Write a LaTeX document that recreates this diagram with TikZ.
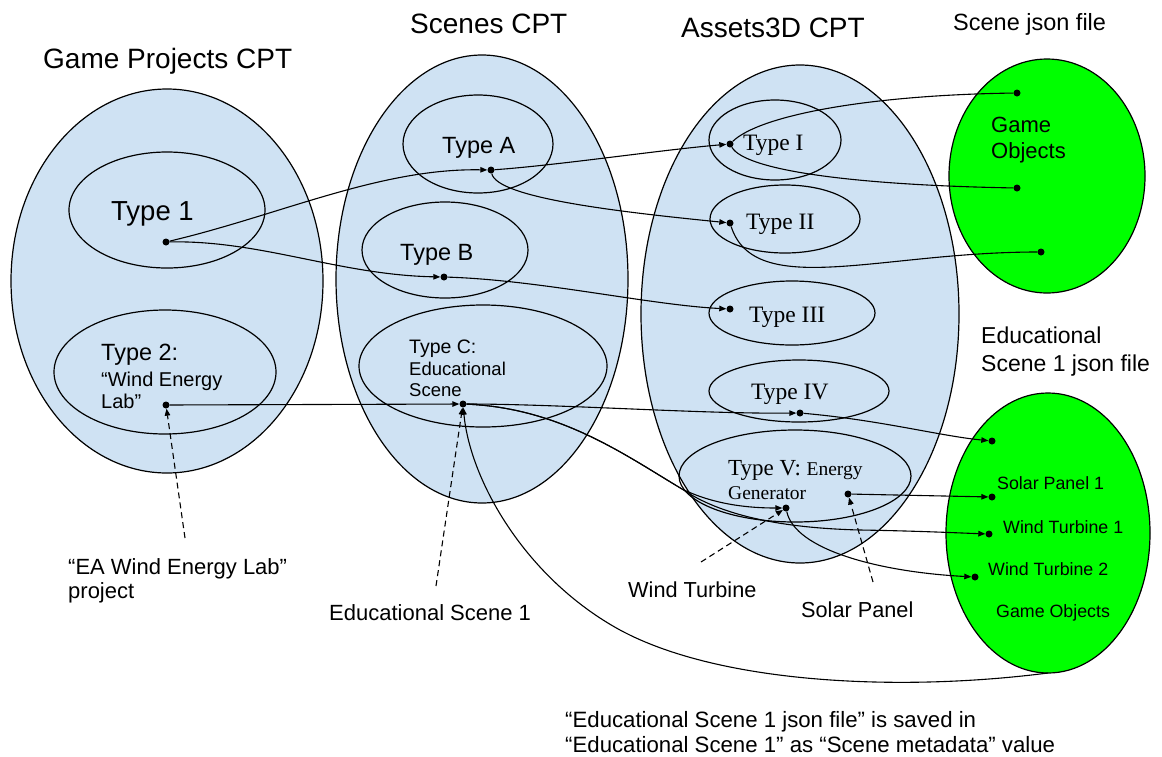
\documentclass[tikz,border=0pt]{standalone}
\usepackage{fontspec}
\setmainfont{Liberation Sans}
\newfontfamily\timesf{Liberation Serif}
\usetikzlibrary{shapes.geometric, arrows.meta}

\definecolor{cptblue}{HTML}{CFE2F3}
\definecolor{jsongreen}{HTML}{00FF00}

\newcommand\fsz[1]{\fontsize{#1}{#1}\selectfont}

\begin{document}
\begin{tikzpicture}[x=1pt, y=-1pt,
  area/.style={ellipse, draw=black, line width=1.2pt, inner sep=0pt, outer sep=0pt},
  cptarea/.style={area, fill=cptblue},
  typearea/.style={area},
  jsonarea/.style={area, fill=jsongreen},
  refdot/.style={circle, fill=black, inner sep=0pt, minimum size=7pt},
  txt/.style={inner sep=0pt, anchor=base west, text=black},
  link/.style={line width=1.1pt},
  arrlink/.style={link, -{Triangle[length=7pt,width=5.5pt]}},
  hintlink/.style={arrlink, dash pattern=on 6pt off 4pt},
]
\useasboundingbox (0,0) rectangle (1162,756);

% content types (outer regions)
\node[cptarea, minimum width=312pt, minimum height=384pt] (gp)  at (167,281) {};
\node[cptarea, minimum width=292pt, minimum height=448pt] (sc)  at (482,279) {};
\node[cptarea, minimum width=318pt, minimum height=498pt] (as)  at (800,314) {};

% json files
\node[jsonarea, minimum width=196pt, minimum height=234pt] (sj)  at (1047,176) {};
\node[jsonarea, minimum width=204pt, minimum height=280pt] (edu) at (1048,533) {};

% sub types
\node[typearea, minimum width=196pt, minimum height=116pt] (t1)   at (167,210) {};
\node[typearea, minimum width=222pt, minimum height=124pt] (t2)   at (165,372) {};
\node[typearea, minimum width=150pt, minimum height=98pt]  (ta)   at (478,144) {};
\node[typearea, minimum width=166pt, minimum height=96pt]  (tb)   at (445,250) {};
\node[typearea, minimum width=248pt, minimum height=122pt] (tc)   at (483,366) {};
\node[typearea, minimum width=132pt, minimum height=80pt]  (ti)   at (775,140) {};
\node[typearea, minimum width=150pt, minimum height=68pt]  (tii)  at (785,219) {};
\node[typearea, minimum width=166pt, minimum height=64pt]  (tiii) at (792,313) {};
\node[typearea, minimum width=180pt, minimum height=62pt]  (tiv)  at (799,391) {};
\node[typearea, minimum width=232pt, minimum height=92pt]  (tv)   at (795,476) {};

% reference points
\node[refdot] (d1)   at (166,242) {};
\node[refdot] (d2)   at (166,405) {};
\node[refdot] (dA)   at (491,170) {};
\node[refdot] (dB)   at (444,277) {};
\node[refdot] (dC)   at (463,404) {};
\node[refdot] (dI)   at (730,144) {};
\node[refdot] (dII)  at (730,223) {};
\node[refdot] (dIII) at (730,309) {};
\node[refdot] (dIV)  at (800,413) {};
\node[refdot] (dW)   at (786,508) {};
\node[refdot] (dS)   at (848,494) {};
\node[refdot] (g1)   at (1017,93) {};
\node[refdot] (g2)   at (1017,188) {};
\node[refdot] (g3)   at (1041,252) {};
\node[refdot] (e1)   at (992,441) {};
\node[refdot] (e2)   at (992,497) {};
\node[refdot] (e3)   at (989,534) {};
\node[refdot] (e4)   at (975,577) {};

% connectors
\draw[arrlink] (d1) .. controls (280,215) and (380,168) .. (dA);
\draw[arrlink] (d1) .. controls (260,240) and (340,275) .. (dB);
\draw[arrlink] (d2) -- (dC);
\draw[arrlink] (dA) .. controls (560,165) and (660,150) .. (dI);
\draw[arrlink] (dA) .. controls (497,198) and (620,212) .. (dII);
\draw[arrlink] (dB) .. controls (540,280) and (650,305) .. (dIII);
\draw[link] (dI) .. controls (760,115) and (870,95) .. (g1);
\draw[link] (dI) .. controls (745,170) and (850,185) .. (g2);
\draw[link] (dII) .. controls (755,300) and (880,252) .. (g3);
\draw[arrlink] (dC) .. controls (560,404) and (700,414) .. (dIV);
\draw[arrlink] (dIV) .. controls (880,420) and (940,436) .. (e1);
\draw[arrlink] (dC) .. controls (560,408) and (625,455) .. (682,489)
                    .. controls (715,505) and (750,508) .. (dW);
\draw[arrlink] (dC) .. controls (560,408) and (625,455) .. (682,489)
                    .. controls (720,515) and (780,528) .. (860,530)
                    .. controls (920,531) and (960,533) .. (e3);
\draw[arrlink] (dW) .. controls (795,550) and (880,572) .. (e4);
\draw[arrlink] (dS) -- (e2);
\draw[arrlink] (edu.south) .. controls (900,692) and (720,684) .. (620,630)
                    .. controls (525,578) and (470,480) .. (dC);

% hint pointers
\coordinate (h2) at (185,538);
\coordinate (hC) at (436,586);
\coordinate (hW) at (701,562);
\coordinate (hS) at (873,582);
\draw[hintlink] (h2) -- (d2);
\draw[hintlink] (hC) -- (dC);
\draw[hintlink] (hW) -- (dW);
\draw[hintlink] (hS) -- (dS);

% titles
\node[txt, font=\fsz{28}] (lgp) at (43,68) {Game Projects CPT};
\node[txt, font=\fsz{28}] (lsc) at (410,33) {Scenes CPT};
\node[txt, font=\fsz{28}] (las) at (681,37) {Assets3D CPT};
\node[txt, font=\fsz{23.5}] (lsj) at (953,30) {Scene json file};
\node[txt, font=\fsz{23}] (led1) at (981,343) {Educational};
\node[txt, font=\fsz{23}] (led2) at (981,371) {Scene 1 json file};

% type labels
\node[txt, font=\fsz{27.5}] (l1) at (111,220) {Type 1};
\node[txt, font=\fsz{23.5}] (l2a) at (101,360) {Type 2:};
\node[txt, font=\fsz{20}] (l2b) at (101,386) {“Wind Energy};
\node[txt, font=\fsz{20}] (l2c) at (101,408) {Lab”};
\node[txt, font=\fsz{23.5}] (lA) at (442,153) {Type A};
\node[txt, font=\fsz{23.5}] (lB) at (400,260) {Type B};
\node[txt, font=\fsz{19.5}] (lCa) at (409,353) {Type C:};
\node[txt, font=\fsz{18.5}] (lCb) at (409,375) {Educational};
\node[txt, font=\fsz{18.5}] (lCc) at (409,396) {Scene};
\node[txt, font=\timesf\fsz{23.5}] (lI)   at (743,150) {Type I};
\node[txt, font=\timesf\fsz{23.5}] (lII)  at (746,229) {Type II};
\node[txt, font=\timesf\fsz{23.5}] (lIII) at (749,322) {Type III};
\node[txt, font=\timesf\fsz{23.5}] (lIV)  at (751,399) {Type IV};
\node[txt, font=\timesf] (lVa) at (728,475) {\fsz{23}Type V: \fsz{19.5}Energy};
\node[txt, font=\timesf\fsz{19.5}] (lVb) at (728,499) {Generator};

% json contents
\node[txt, font=\fsz{22}] (lg1) at (991,132) {Game};
\node[txt, font=\fsz{22}] (lg2) at (991,158) {Objects};
\node[txt, font=\fsz{17.8}] (le1) at (997,489) {Solar Panel 1};
\node[txt, font=\fsz{17.8}] (le2) at (1003,533) {Wind Turbine 1};
\node[txt, font=\fsz{17.8}] (le3) at (988,575) {Wind Turbine 2};
\node[txt, font=\fsz{17.8}] (le4) at (996,617) {Game Objects};

% annotations
\node[txt, font=\fsz{22}] (n1a) at (68,574) {“EA Wind Energy Lab”};
\node[txt, font=\fsz{22}] (n1b) at (68,598) {project};
\node[txt, font=\fsz{22}] (n2) at (329,620) {Educational Scene 1};
\node[txt, font=\fsz{21.7}] (n3) at (628,597) {Wind Turbine};
\node[txt, font=\fsz{21.7}] (n4) at (801,617) {Solar Panel};
\node[txt, font=\fsz{22.2}] (n5a) at (565,727) {“Educational Scene 1 json file” is saved in};
\node[txt, font=\fsz{22.2}] (n5b) at (565,752) {“Educational Scene 1” as “Scene metadata” value};
\end{tikzpicture}
\end{document}
